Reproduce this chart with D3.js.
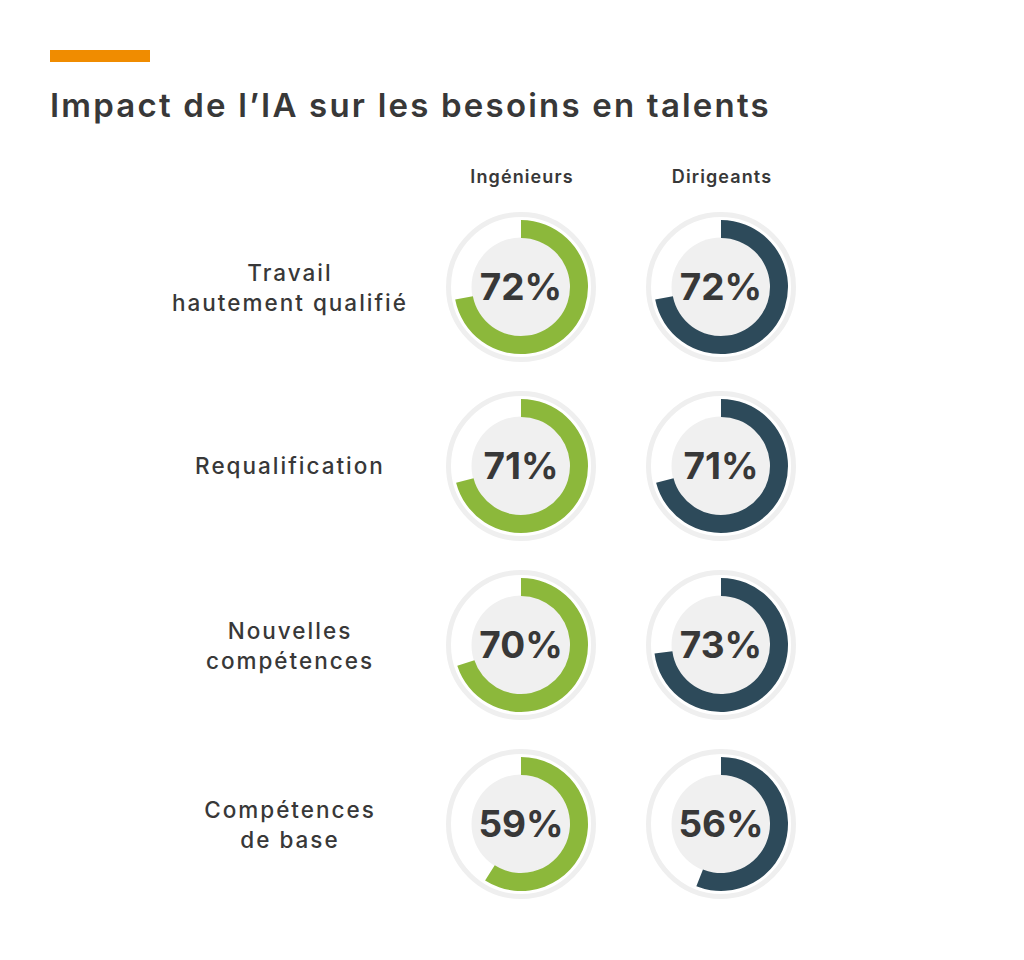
<!DOCTYPE html>
<html>
<head>
<meta charset="utf-8">
<script src="https://cdn.jsdelivr.net/npm/d3@7"></script>
<style>
  html, body { margin: 0; padding: 0; background: #ffffff; }
  svg { display: block; }
</style>
</head>
<body>
<svg id="chart" width="1024" height="960"></svg>
<script>
const title = "Impact de l’IA sur les besoins en talents";
const groups = ["Ingénieurs", "Dirigeants"];
const categories = [
  ["Travail", "hautement qualifié"],
  ["Requalification"],
  ["Nouvelles", "compétences"],
  ["Compétences", "de base"]
];
const ingenieurs = [72, 71, 70, 59];
const dirigeants = [72, 71, 73, 56];
const seriesValues = [ingenieurs, dirigeants];
const colors = ["#8cb83b", "#2d4a5a"];

const svg = d3.select("#chart");
const textColor = "#383838";
const font = "Inter, 'Open Sans', sans-serif";

// accent bar
svg.append("rect").attr("x", 50).attr("y", 50).attr("width", 100).attr("height", 12).attr("fill", "#f08c00");

// title
svg.append("text").attr("x", 50).attr("y", 117)
  .attr("font-family", font).attr("font-weight", 600).attr("font-size", 33)
  .attr("letter-spacing", 2.2)
  .attr("fill", textColor).text(title);

const x = d3.scalePoint().domain(groups).range([521, 721]);
const y = d3.scalePoint().domain(d3.range(categories.length)).range([287, 824]);
const angle = d3.scaleLinear().domain([0, 100]).range([0, 2 * Math.PI]);
const arc = d3.arc().innerRadius(49).outerRadius(67).startAngle(0);

// column headers
svg.selectAll("text.hdr").data(groups).join("text").attr("class", "hdr")
  .attr("x", d => x(d) + 1).attr("y", 183)
  .attr("text-anchor", "middle").attr("font-family", font).attr("font-weight", 600)
  .attr("font-size", 18).attr("letter-spacing", 1.1).attr("fill", textColor).text(d => d);

// row labels
categories.forEach((lines, i) => {
  const t = svg.append("text").attr("text-anchor", "middle")
    .attr("font-family", font).attr("font-weight", 500).attr("font-size", 22.5)
    .attr("letter-spacing", 2).attr("fill", textColor);
  const startY = lines.length === 1 ? y(i) + 8 : y(i) - 6;
  lines.forEach((ln, j) => {
    t.append("tspan").attr("x", 290).attr("y", startY + j * 30).text(ln);
  });
});

// donuts
groups.forEach((g, gi) => {
  seriesValues[gi].forEach((v, i) => {
    const cg = svg.append("g").attr("transform", `translate(${x(g)},${y(i)})`);
    cg.append("circle").attr("r", 72.5).attr("fill", "none").attr("stroke", "#efefef").attr("stroke-width", 5);
    cg.append("circle").attr("r", 49.5).attr("fill", "#f0f0f0");
    cg.append("path").attr("d", arc({ endAngle: angle(v) })).attr("fill", colors[gi]);
    cg.append("text").attr("text-anchor", "middle").attr("dy", "0.36em")
      .attr("font-family", font).attr("font-weight", 700).attr("font-size", 37)
      .attr("fill", textColor).text(v + "%");
  });
});
</script>
</body>
</html>
